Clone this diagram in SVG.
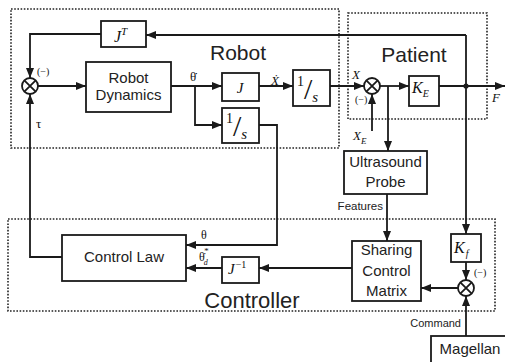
<svg xmlns="http://www.w3.org/2000/svg" width="505" height="362" viewBox="0 0 505 362">
<defs>
<style>
.box{fill:#fff;stroke:#1a1a1a;stroke-width:1.8}
.region{fill:none;stroke:#222;stroke-width:1.6;stroke-dasharray:1.6 1.6}
.wire{fill:none;stroke:#1a1a1a;stroke-width:1.8}
.sum{fill:#fff;stroke:#1a1a1a;stroke-width:1.8}
.x{stroke:#1a1a1a;stroke-width:1.8}
.t{font-family:"Liberation Sans",Arial,sans-serif;fill:#222;font-size:15px;text-anchor:middle}
.title{font-family:"Liberation Sans",Arial,sans-serif;fill:#222;font-size:21px;text-anchor:middle}
.small{font-family:"Liberation Sans",Arial,sans-serif;fill:#222;font-size:11.5px}
.m{font-family:"Liberation Serif","DejaVu Serif",serif;fill:#111;font-style:italic}
.g{font-family:"Liberation Serif","DejaVu Serif",serif;fill:#111}
.up{font-style:normal}
</style>
<marker id="ah" viewBox="0 0 10 8" refX="10" refY="4" markerWidth="10" markerHeight="8" orient="auto" markerUnits="userSpaceOnUse">
<path d="M0,0 L10,4 L0,8 z" fill="#1a1a1a"/>
</marker>
</defs>
<rect width="505" height="362" fill="#fff"/>

<g id="region-robot"><rect class="region" x="11" y="9" width="328" height="139"/><text class="title" x="238" y="60">Robot</text></g>
<g id="region-patient"><rect class="region" x="348" y="13" width="139" height="106"/><text class="title" x="414" y="62">Patient</text></g>
<g id="region-controller"><rect class="region" x="8" y="219" width="487" height="92"/><text class="title" x="252" y="308" style="font-size:22px">Controller</text></g>

<g id="connectors">
<path class="wire" d="M466,35 V234" marker-end="url(#ah)"/>
<path class="wire" d="M466,35 H146" marker-end="url(#ah)"/>
<path class="wire" d="M101,34 H30 V78" marker-end="url(#ah)"/>
<path class="wire" d="M38,86 H86" marker-end="url(#ah)"/>
<path class="wire" d="M62,257 H30 V94" marker-end="url(#ah)"/>
<path class="wire" d="M171,86 H222" marker-end="url(#ah)"/>
<path class="wire" d="M195,86 V125 H222" marker-end="url(#ah)"/>
<path class="wire" d="M259,86 H293" marker-end="url(#ah)"/>
<path class="wire" d="M330,86 H364" marker-end="url(#ah)"/>
<path class="wire" d="M380,86 H409" marker-end="url(#ah)"/>
<path class="wire" d="M388,86 V151" marker-end="url(#ah)"/>
<path class="wire" d="M372,131 V94" marker-end="url(#ah)"/>
<path class="wire" d="M439,86 H505" marker-end="url(#ah)"/>
<circle cx="466" cy="86" r="2.6" fill="#1a1a1a"/>
<path class="wire" d="M259,125 H277 V245 H186" marker-end="url(#ah)"/>
<path class="wire" d="M222,268 H186" marker-end="url(#ah)"/>
<path class="wire" d="M352,268 H259" marker-end="url(#ah)"/>
<path class="wire" d="M387,194 V241" marker-end="url(#ah)"/>
<path class="wire" d="M466,262 V280" marker-end="url(#ah)"/>
<path class="wire" d="M458,288 H421" marker-end="url(#ah)"/>
<path class="wire" d="M466,336 V296" marker-end="url(#ah)"/>

<text class="g" x="37" y="75" font-size="10">(−)</text>
<text class="g" x="36" y="128" font-size="13">τ</text>
<text class="g" x="190" y="81" font-size="13">θ̇</text>
<text class="m" x="271" y="85" font-size="13">Ẋ</text>
<text class="m" x="352" y="79" font-size="13">X</text>
<text class="g" x="355" y="103" font-size="10">(−)</text>
<text class="m" x="353" y="140" font-size="13">X<tspan dy="4" font-size="9">E</tspan></text>
<text class="m" x="492" y="102" font-size="13">F</text>
<text class="g" x="201" y="239" font-size="12">θ</text>
<text class="g" x="199" y="261" font-size="12">θ̇<tspan class="m" dx="-1" dy="4" font-size="8">d</tspan><tspan class="m" dx="-4" dy="-11" font-size="9">*</tspan></text>
<text class="small" x="383" y="210" text-anchor="end">Features</text>
<text class="small" x="461" y="327" text-anchor="end" style="font-size:11px">Command</text>
<text class="g" x="474" y="276" font-size="10">(−)</text>
</g>

<g id="node-JT"><rect class="box" x="101" y="21" width="45" height="26"/><text class="m" x="114" y="42" font-size="16">J<tspan dy="-7" font-size="11">T</tspan></text></g>
<g id="node-sum1"><circle class="sum" cx="30" cy="86" r="8"/><path class="x" d="M24.3,80.3 L35.7,91.7 M35.7,80.3 L24.3,91.7"/></g>
<g id="node-robot-dynamics"><rect class="box" x="86" y="62" width="85" height="50"/><text class="t" x="128.5" y="83">Robot</text><text class="t" x="128.5" y="100">Dynamics</text></g>
<g id="node-J"><rect class="box" x="222" y="73" width="37" height="28"/><text class="m" x="240" y="93" font-size="15" text-anchor="middle">J</text></g>
<g id="node-int-lower"><rect class="box" x="222" y="108" width="37" height="35"/><text class="g" x="226" y="123" font-size="14">1<tspan dy="13" font-size="30">/</tspan><tspan class="m" dy="3" font-size="15">s</tspan></text></g>
<g id="node-int-upper"><rect class="box" x="293" y="70" width="37" height="36"/><text class="g" x="297" y="86" font-size="14">1<tspan dy="13" font-size="30">/</tspan><tspan class="m" dy="3" font-size="15">s</tspan></text></g>
<g id="node-sum2"><circle class="sum" cx="372" cy="86" r="8"/><path class="x" d="M366.3,80.3 L377.7,91.7 M377.7,80.3 L366.3,91.7"/></g>
<g id="node-KE"><rect class="box" x="409" y="76" width="30" height="30"/><text class="m" x="412" y="93" font-size="16">K<tspan dy="4" font-size="10">E</tspan></text></g>
<g id="node-ultrasound"><rect class="box" x="344" y="151" width="83" height="43"/><text class="t" x="385.5" y="167">Ultrasound</text><text class="t" x="385.5" y="187">Probe</text></g>
<g id="node-control-law"><rect class="box" x="62" y="235" width="124" height="46"/><text class="t" x="124" y="262">Control Law</text></g>
<g id="node-Jinv"><rect class="box" x="222" y="257" width="37" height="26"/><text class="m" x="228" y="274" font-size="15">J<tspan class="up" dx="1" dy="-6" font-size="10">−1</tspan></text></g>
<g id="node-sharing"><rect class="box" x="352" y="241" width="69" height="60"/><text class="t" x="386.5" y="255">Sharing</text><text class="t" x="386.5" y="276">Control</text><text class="t" x="386.5" y="296">Matrix</text></g>
<g id="node-Kf"><rect class="box" x="451" y="234" width="30" height="28"/><text class="m" x="454" y="253" font-size="16">K<tspan dx="1" dy="4" font-size="10">f</tspan></text></g>
<g id="node-sum3"><circle class="sum" cx="466" cy="288" r="8"/><path class="x" d="M460.3,282.3 L471.7,293.7 M471.7,282.3 L460.3,293.7"/></g>
<g id="node-magellan"><rect class="box" x="431" y="336" width="80" height="40"/><text class="t" x="470" y="354">Magellan</text></g>
</svg>
